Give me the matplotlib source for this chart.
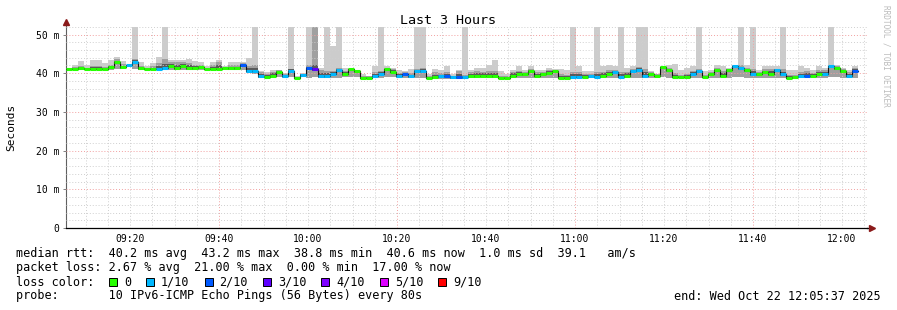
import matplotlib
matplotlib.use('Agg')
import numpy as np
import matplotlib.pyplot as plt
from matplotlib.patches import Rectangle

W, H = 897, 310
MONO = 'DejaVu Sans Mono'

# median rtt per 80s sample (ms)
med = [41.0, 41.2, 41.4, 41.0, 41.1, 41.1, 41.1, 41.6, 42.8, 41.5,
       42.0, 43.0, 41.3, 41.0, 41.0, 41.1, 41.4, 41.8, 41.4, 41.8,
       41.4, 41.4, 41.6, 41.0, 41.1, 41.1, 41.3, 41.3, 41.3, 42.2,
       40.7, 40.5, 39.2, 39.0, 39.4, 40.3, 39.4, 40.7, 38.7, 39.5,
       41.4, 41.0, 39.2, 39.2, 39.7, 40.8, 39.7, 41.0, 40.5, 38.8,
       38.8, 39.2, 39.9, 41.0, 40.4, 39.4, 39.7, 39.2, 40.5, 40.5,
       38.8, 39.0, 39.2, 39.2, 39.1, 39.1, 39.1, 39.4, 39.2, 39.4,
       39.4, 39.2, 38.7, 38.7, 39.4, 39.7, 39.7, 40.5, 39.4, 39.7,
       40.1, 40.5, 38.8, 38.8, 39.1, 39.1, 39.1, 39.4, 39.1, 39.4,
       39.7, 40.3, 39.1, 39.4, 40.5, 40.9, 39.2, 39.7, 39.4, 41.5,
       40.8, 39.1, 39.1, 39.1, 39.9, 40.6, 39.1, 39.7, 40.8, 39.4,
       40.8, 41.8, 41.3, 40.8, 39.9, 39.7, 40.3, 39.9, 40.8, 39.7,
       38.8, 39.1, 39.2, 39.4, 39.4, 39.9, 39.9, 41.8, 41.3, 40.5,
       39.4, 40.5]

# lost pings out of 10 per sample
loss = [0, 0, 0, 0, 0, 0, 0, 0, 0, 0,
        1, 1, 0, 0, 0, 1, 1, 0, 0, 0,
        0, 0, 0, 0, 0, 0, 0, 0, 0, 2,
        1, 1, 1, 0, 0, 0, 1, 1, 0, 1,
        2, 3, 1, 1, 1, 1, 0, 0, 0, 0,
        0, 1, 1, 0, 0, 1, 2, 1, 1, 1,
        0, 0, 1, 2, 1, 2, 1, 0, 0, 0,
        0, 0, 0, 0, 0, 0, 0, 0, 0, 0,
        0, 0, 0, 0, 1, 1, 0, 1, 1, 0,
        0, 1, 1, 0, 1, 1, 1, 0, 0, 0,
        0, 0, 0, 0, 1, 1, 0, 0, 0, 0,
        0, 1, 1, 0, 1, 0, 0, 0, 1, 1,
        0, 0, 1, 2, 0, 0, 1, 1, 0, 0,
        1, 2]

# fastest ping per sample (ms)
lo = [40.8, 40.8, 40.8, 40.8, 40.8, 40.8, 40.8, 40.8, 41.0, 41.0,
      41.6, 41.2, 40.8, 40.8, 40.8, 40.8, 40.8, 40.8, 40.8, 40.8,
      40.8, 40.8, 40.8, 40.8, 40.8, 40.8, 40.8, 40.8, 40.8, 40.8,
      40.0, 39.8, 38.7, 38.7, 38.7, 38.9, 38.8, 38.9, 38.4, 38.9,
      38.8, 38.9, 38.8, 38.8, 38.8, 38.8, 39.0, 39.0, 39.0, 38.5,
      38.5, 38.8, 38.8, 39.0, 39.0, 38.8, 38.8, 38.8, 38.8, 38.8,
      38.6, 38.6, 38.6, 38.6, 38.6, 38.6, 38.6, 38.7, 38.7, 38.7,
      38.7, 38.7, 38.4, 38.4, 38.7, 38.7, 38.7, 38.7, 38.7, 38.7,
      38.7, 38.7, 38.5, 38.5, 38.7, 38.7, 38.7, 38.7, 38.7, 38.7,
      38.7, 38.7, 38.7, 38.7, 38.7, 38.7, 38.7, 38.7, 38.7, 38.9,
      38.7, 38.7, 38.7, 38.7, 38.7, 38.7, 38.7, 38.7, 38.7, 38.7,
      38.7, 38.9, 38.9, 38.7, 38.7, 38.7, 38.7, 38.7, 38.7, 38.7,
      38.5, 38.7, 38.7, 38.7, 38.7, 38.7, 38.7, 38.9, 38.9, 38.7,
      38.7, 38.7]

# upper edge of the denser smoke (ms)
mid = [41.3, 41.6, 41.8, 41.4, 41.9, 41.9, 41.6, 42.2, 43.6, 42.4,
       42.2, 43.8, 41.8, 41.4, 41.8, 42.6, 43.6, 43.0, 42.8, 43.0,
       42.6, 42.2, 42.2, 41.4, 42.0, 42.8, 41.6, 42.0, 42.0, 42.6,
       41.8, 42.0, 40.2, 39.8, 40.4, 40.8, 39.8, 41.2, 39.0, 39.9,
       42.0, 55.0, 40.8, 40.6, 40.6, 41.4, 40.6, 41.2, 40.8, 39.2,
       39.2, 40.4, 40.6, 41.4, 41.0, 40.0, 40.2, 40.0, 41.2, 41.4,
       39.2, 40.2, 40.0, 40.4, 39.4, 40.6, 39.6, 40.2, 40.6, 40.4,
       40.6, 40.6, 39.2, 39.2, 40.4, 40.6, 40.4, 41.0, 40.2, 40.4,
       40.8, 40.8, 39.8, 39.6, 40.4, 40.4, 39.8, 39.8, 40.4, 40.4,
       40.8, 40.8, 40.2, 40.4, 41.0, 41.6, 41.2, 40.2, 39.8, 41.6,
       41.4, 40.0, 39.6, 39.8, 40.6, 41.2, 39.6, 40.4, 41.4, 40.6,
       41.2, 42.0, 42.0, 41.4, 41.0, 40.4, 41.0, 41.0, 41.2, 41.0,
       39.6, 39.6, 40.4, 40.6, 40.0, 40.8, 40.8, 42.0, 41.8, 41.0,
       40.2, 41.4]

# slowest ping per sample (ms), 55 = off the top of the graph
hi = [41.4, 42.0, 43.1, 42.0, 43.4, 43.4, 42.7, 43.5, 44.2, 43.1,
      42.2, 55.0, 43.0, 41.8, 42.7, 44.2, 55.0, 43.5, 43.5, 43.5,
      43.7, 43.1, 42.8, 41.8, 43.0, 43.5, 41.8, 42.8, 43.0, 43.0,
      43.9, 55.0, 40.7, 40.3, 40.9, 40.9, 40.1, 55.0, 39.2, 40.1,
      55.0, 55.0, 41.4, 55.0, 47.0, 55.0, 41.4, 41.4, 40.9, 39.7,
      39.4, 41.8, 55.0, 41.8, 41.4, 40.9, 40.5, 41.1, 55.0, 55.0,
      39.9, 41.1, 40.9, 41.8, 39.7, 40.8, 55.0, 40.9, 41.4, 41.4,
      42.2, 43.5, 40.5, 39.7, 40.8, 41.8, 40.9, 41.8, 40.9, 40.9,
      41.4, 41.1, 41.1, 40.9, 55.0, 41.8, 40.5, 40.5, 55.0, 41.8,
      42.0, 41.8, 55.0, 41.4, 41.8, 55.0, 55.0, 40.5, 39.9, 41.8,
      42.2, 42.5, 40.8, 41.4, 41.8, 55.0, 40.5, 40.9, 42.2, 41.8,
      41.4, 42.2, 55.0, 42.0, 55.0, 40.9, 41.8, 41.8, 41.8, 55.0,
      40.8, 40.8, 41.8, 41.4, 40.9, 41.8, 41.4, 55.0, 42.2, 41.4,
      40.8, 41.8]

loss_keys = [0, 1, 2, 3, 4, 5, 9]
loss_labels = ['0', '1/10', '2/10', '3/10', '4/10', '5/10', '9/10']
loss_colors = {0: '#26ff00', 1: '#00b8ff', 2: '#0059ff', 3: '#5e00ff',
               4: '#7e00ff', 5: '#dd00ff', 9: '#ff0000'}

time_labels = ['09:20', '09:40', '10:00', '10:20', '10:40',
               '11:00', '11:20', '11:40', '12:00']
major_times = ['09:40', '10:20', '11:00', '11:40']
y_ticks = [0, 10, 20, 30, 40, 50]

start_min = 9 * 60 + 5 + 37 / 60.0   # 09:05:37
data_end = 178.0                     # minutes after start


def tmin(s):
    h, m = s.split(':')
    return int(h) * 60 + int(m) - start_min


med = np.array(med)
lo = np.array(lo)
hi = np.array(hi)
mid = np.minimum(np.array(mid), hi)
n = len(med)
edges = np.linspace(0, data_end, n + 1)
left = edges[:-1]
step = edges[1] - edges[0]

fig = plt.figure(figsize=(W / 100, H / 100), dpi=100)
ax = fig.add_axes([66 / W, 1 - 228 / H, 801 / W, (228 - 26.8) / H])
ax.set_xlim(0, 180)
ax.set_ylim(0, 52)

# smoke
ax.bar(left, hi - lo, bottom=lo, width=step, align='edge', color='#cccccc',
       lw=0, zorder=1)
ax.bar(left, mid - lo, bottom=lo, width=step, align='edge', color='#a0a0a0',
       lw=0, zorder=1.2)
dark_lo = np.maximum(lo, med - 0.5)
dark_top = med + np.minimum(1.0, 0.55 * (mid - med))
ax.bar(left, dark_top - dark_lo, bottom=dark_lo, width=step,
       align='edge', color='#5a5a5a', lw=0, zorder=1.4)

# grid (drawn over the smoke like rrdtool does)
gc, rc = '#cfcfcf', '#f2a0a0'
for m in range(9 * 60 + 10, 12 * 60 + 6, 5):
    s = '%02d:%02d' % (m // 60, m % 60)
    ax.axvline(tmin(s), color=rc if s in major_times else gc, lw=0.7,
               ls=(0, (1, 2)), zorder=3)
for v in range(2, 53, 2):
    ax.axhline(v, color=rc if v % 10 == 0 else gc, lw=0.7,
               ls=(0, (1, 2)), zorder=3)

# median line coloured by loss
ax.step(edges, np.r_[med, med[-1]], where='post', color='#111111', lw=0.8,
        zorder=4)
ax.hlines(med, left, edges[1:], colors=[loss_colors[k] for k in loss],
          lw=2.2, zorder=5)

ax.set_xticks([tmin(s) for s in time_labels])
ax.set_xticklabels(time_labels, family=MONO, fontsize=7)
ax.set_yticks(y_ticks)
ax.set_yticklabels(['0' if v == 0 else '%d m' % v for v in y_ticks],
                   family=MONO, fontsize=7)
ax.tick_params(axis='x', length=0, pad=4.5)
ax.tick_params(axis='y', length=2, width=0.7, color='#808080', pad=3)
for sp in ['top', 'right']:
    ax.spines[sp].set_visible(False)
ax.spines['left'].set_color('#606060')
ax.spines['left'].set_linewidth(0.8)
ax.spines['bottom'].set_color('#000000')
ax.spines['bottom'].set_linewidth(0.9)

# axis arrows
ax.plot([0, 0], [52, 53.2], color='#606060', lw=0.8, clip_on=False)
ax.plot([0], [53.3], marker='^', color='#8b1a1a', ms=4, clip_on=False)
ax.plot([180, 181], [0, 0], color='#000000', lw=0.9, clip_on=False)
ax.plot([181.2], [0], marker='>', color='#8b1a1a', ms=4, clip_on=False)

ax.set_ylabel('Seconds', family=MONO, fontsize=8)
ax.yaxis.set_label_coords(-0.062, 0.5)

fig.text(448 / W, 1 - 20 / H, 'Last 3 Hours', family=MONO, fontsize=9.6,
         ha='center', va='center')
fig.text(886 / W, 1 - 5 / H, 'RRDTOOL / TOBI OETIKER', family=MONO,
         fontsize=5.6, color='#bbbbbb', rotation=270, ha='center', va='top')

lines = [
    'median rtt:  40.2 ms avg  43.2 ms max  38.8 ms min  40.6 ms now  1.0 ms sd  39.1   am/s',
    'packet loss: 2.67 % avg  21.00 % max  0.00 % min  17.00 % now',
    'loss color:',
    'probe:       10 IPv6-ICMP Echo Pings (56 Bytes) every 80s',
]
for i, txt in enumerate(lines):
    fig.text(16 / W, 1 - (254 + 14 * i) / H, txt, family=MONO, fontsize=8.5,
             va='center')

cw = 7.1
x = 109.0
yb = 282
for k, lab in zip(loss_keys, loss_labels):
    fig.add_artist(Rectangle((x / W, 1 - (yb + 4) / H), 8 / W, 8 / H,
                             transform=fig.transFigure,
                             facecolor=loss_colors[k], edgecolor='black',
                             lw=0.7))
    fig.text((x + 15) / W, 1 - yb / H, lab, family=MONO, fontsize=8.5,
             va='center')
    x = x + 15 + len(lab) * cw + 15

fig.text(881 / W, 1 - 296 / H, 'end: Wed Oct 22 12:05:37 2025', family=MONO,
         fontsize=8.5, ha='right', va='center')

fig.savefig('out.png', dpi=100)
